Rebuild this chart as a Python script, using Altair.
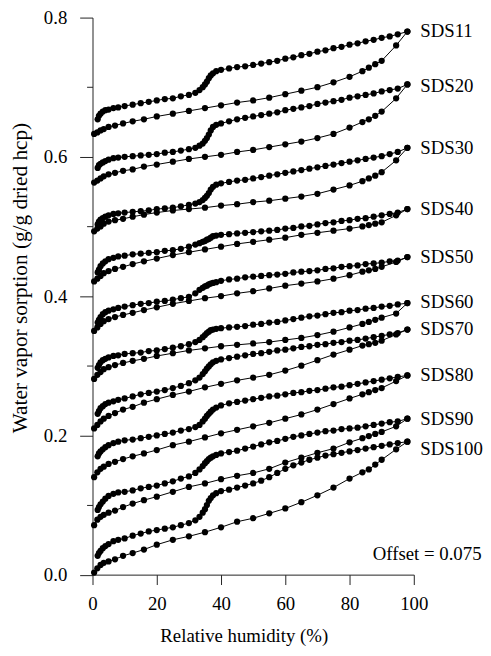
import altair as alt
import pandas as pd

SAMPLES = ["SDS11", "SDS20", "SDS30", "SDS40", "SDS50", "SDS60", "SDS70", "SDS80", "SDS90", "SDS100"]

# relative humidity steps (%) of the desorption branch (upper curves) and adsorption branch (lower curves)
RH_DES = [98, 95, 92.5, 90, 87.5, 85, 82.5, 80, 77.5, 75, 72.5, 70, 67.5, 65, 62.5, 60, 57.5, 55, 52.5, 50,
          47.5, 45, 42.5, 40, 38.5, 37.5, 36.8, 36.2, 35.6, 35, 34.3, 33.3, 32, 30, 27.5, 25, 22.5, 20, 17.5, 15,
          12.5, 10, 8, 6.5, 5, 4, 3.2, 2.5, 2, 1.6]
RH_ADS = [0.5, 1.5, 2.5, 3.5, 5, 7, 9.5, 12.5, 16, 20, 25, 30, 35, 40, 45, 50, 55, 60, 65, 70,
          75, 80, 84, 86, 88, 90, 94.5, 98]

DES_SDS11 = [0.780, 0.776, 0.773, 0.771, 0.768, 0.766, 0.763, 0.761, 0.758, 0.756, 0.753, 0.751, 0.748, 0.746, 0.743, 0.741, 0.738, 0.736, 0.734, 0.732,
             0.730, 0.729, 0.727, 0.725, 0.723, 0.720, 0.717, 0.713, 0.708, 0.704, 0.700, 0.696, 0.692, 0.689, 0.687, 0.684, 0.683, 0.681, 0.679, 0.677,
             0.675, 0.673, 0.671, 0.670, 0.668, 0.667, 0.665, 0.662, 0.659, 0.654]
ADS_SDS11 = [0.633, 0.635, 0.638, 0.640, 0.643, 0.645, 0.648, 0.651, 0.654, 0.658, 0.662, 0.666, 0.670, 0.674, 0.678, 0.681, 0.685, 0.690, 0.695, 0.700,
             0.707, 0.715, 0.723, 0.728, 0.733, 0.738, 0.760, 0.780]

DES_SDS20 = [0.704, 0.698, 0.696, 0.694, 0.691, 0.689, 0.687, 0.685, 0.682, 0.680, 0.678, 0.676, 0.673, 0.671, 0.669, 0.667, 0.664, 0.662, 0.660, 0.658,
             0.656, 0.654, 0.651, 0.648, 0.646, 0.643, 0.638, 0.632, 0.627, 0.623, 0.619, 0.616, 0.613, 0.611, 0.609, 0.607, 0.606, 0.604, 0.603, 0.602,
             0.601, 0.600, 0.599, 0.598, 0.596, 0.594, 0.592, 0.590, 0.588, 0.584]
ADS_SDS20 = [0.563, 0.566, 0.569, 0.572, 0.575, 0.577, 0.580, 0.582, 0.586, 0.589, 0.593, 0.597, 0.600, 0.603, 0.607, 0.610, 0.614, 0.618, 0.622, 0.627,
             0.633, 0.642, 0.650, 0.654, 0.659, 0.665, 0.684, 0.704]

DES_SDS30 = [0.613, 0.607, 0.604, 0.601, 0.599, 0.597, 0.595, 0.593, 0.591, 0.589, 0.587, 0.585, 0.583, 0.581, 0.579, 0.577, 0.575, 0.573, 0.571, 0.569,
             0.567, 0.566, 0.564, 0.562, 0.560, 0.557, 0.553, 0.548, 0.544, 0.541, 0.538, 0.535, 0.533, 0.531, 0.529, 0.527, 0.526, 0.525, 0.523, 0.522,
             0.521, 0.520, 0.519, 0.518, 0.516, 0.514, 0.512, 0.510, 0.507, 0.503]
ADS_SDS30 = [0.493, 0.497, 0.500, 0.504, 0.507, 0.509, 0.511, 0.514, 0.517, 0.520, 0.523, 0.525, 0.527, 0.530, 0.532, 0.535, 0.537, 0.540, 0.543, 0.547,
             0.553, 0.559, 0.565, 0.569, 0.573, 0.578, 0.595, 0.613]

DES_SDS40 = [0.525, 0.520, 0.518, 0.516, 0.514, 0.512, 0.511, 0.509, 0.508, 0.506, 0.505, 0.503, 0.501, 0.500, 0.498, 0.497, 0.495, 0.494, 0.493, 0.492,
             0.491, 0.490, 0.489, 0.488, 0.487, 0.486, 0.484, 0.482, 0.481, 0.479, 0.478, 0.476, 0.474, 0.471, 0.468, 0.466, 0.465, 0.463, 0.462, 0.461,
             0.460, 0.458, 0.457, 0.455, 0.453, 0.450, 0.447, 0.443, 0.438, 0.434]
ADS_SDS40 = [0.421, 0.425, 0.429, 0.433, 0.436, 0.439, 0.442, 0.446, 0.450, 0.454, 0.459, 0.463, 0.467, 0.471, 0.475, 0.478, 0.481, 0.484, 0.488, 0.491,
             0.494, 0.497, 0.500, 0.502, 0.504, 0.506, 0.516, 0.525]

DES_SDS50 = [0.456, 0.451, 0.450, 0.448, 0.447, 0.446, 0.444, 0.443, 0.442, 0.440, 0.439, 0.437, 0.436, 0.435, 0.434, 0.432, 0.431, 0.430, 0.429, 0.428,
             0.427, 0.425, 0.424, 0.422, 0.420, 0.419, 0.418, 0.417, 0.415, 0.414, 0.412, 0.409, 0.404, 0.399, 0.397, 0.395, 0.393, 0.392, 0.390, 0.389,
             0.387, 0.385, 0.383, 0.381, 0.379, 0.377, 0.374, 0.370, 0.366, 0.362]
ADS_SDS50 = [0.350, 0.355, 0.360, 0.364, 0.367, 0.370, 0.373, 0.376, 0.380, 0.384, 0.389, 0.393, 0.397, 0.400, 0.404, 0.407, 0.411, 0.415, 0.418, 0.421,
             0.425, 0.430, 0.435, 0.437, 0.439, 0.442, 0.449, 0.456]

DES_SDS60 = [0.390, 0.388, 0.386, 0.385, 0.383, 0.382, 0.380, 0.379, 0.377, 0.376, 0.374, 0.372, 0.371, 0.369, 0.367, 0.365, 0.363, 0.362, 0.360, 0.359,
             0.357, 0.356, 0.355, 0.354, 0.353, 0.352, 0.351, 0.349, 0.347, 0.344, 0.341, 0.337, 0.334, 0.331, 0.328, 0.326, 0.324, 0.322, 0.321, 0.319,
             0.318, 0.317, 0.315, 0.314, 0.312, 0.310, 0.308, 0.305, 0.301, 0.297]
ADS_SDS60 = [0.281, 0.287, 0.291, 0.295, 0.298, 0.301, 0.304, 0.307, 0.310, 0.314, 0.318, 0.322, 0.325, 0.328, 0.330, 0.332, 0.334, 0.337, 0.340, 0.344,
             0.349, 0.355, 0.360, 0.363, 0.366, 0.369, 0.375, 0.390]

DES_SDS70 = [0.352, 0.347, 0.345, 0.343, 0.341, 0.339, 0.337, 0.336, 0.334, 0.333, 0.331, 0.330, 0.328, 0.327, 0.325, 0.323, 0.322, 0.320, 0.318, 0.317,
             0.315, 0.313, 0.311, 0.309, 0.307, 0.305, 0.302, 0.299, 0.296, 0.292, 0.288, 0.283, 0.279, 0.275, 0.271, 0.268, 0.265, 0.263, 0.261, 0.259,
             0.256, 0.253, 0.251, 0.249, 0.247, 0.245, 0.242, 0.239, 0.235, 0.231]
ADS_SDS70 = [0.210, 0.215, 0.220, 0.224, 0.228, 0.232, 0.237, 0.241, 0.247, 0.252, 0.258, 0.263, 0.269, 0.274, 0.279, 0.283, 0.287, 0.293, 0.300, 0.308,
             0.316, 0.323, 0.329, 0.331, 0.333, 0.336, 0.345, 0.352]

DES_SDS80 = [0.286, 0.284, 0.282, 0.280, 0.278, 0.276, 0.274, 0.272, 0.270, 0.269, 0.267, 0.265, 0.264, 0.262, 0.261, 0.259, 0.257, 0.256, 0.254, 0.252,
             0.250, 0.248, 0.246, 0.243, 0.240, 0.237, 0.234, 0.231, 0.228, 0.224, 0.220, 0.215, 0.212, 0.209, 0.207, 0.204, 0.202, 0.200, 0.198, 0.196,
             0.194, 0.193, 0.191, 0.189, 0.186, 0.183, 0.180, 0.177, 0.174, 0.170]
ADS_SDS80 = [0.140, 0.147, 0.152, 0.155, 0.159, 0.162, 0.166, 0.170, 0.174, 0.179, 0.186, 0.191, 0.197, 0.203, 0.208, 0.213, 0.218, 0.224, 0.230, 0.237,
             0.245, 0.253, 0.259, 0.262, 0.265, 0.268, 0.278, 0.286]

DES_SDS90 = [0.224, 0.220, 0.219, 0.217, 0.215, 0.213, 0.211, 0.210, 0.209, 0.207, 0.206, 0.204, 0.202, 0.200, 0.198, 0.195, 0.192, 0.190, 0.187, 0.184,
             0.181, 0.178, 0.176, 0.174, 0.172, 0.170, 0.168, 0.166, 0.163, 0.160, 0.156, 0.151, 0.146, 0.141, 0.138, 0.134, 0.131, 0.128, 0.126, 0.124,
             0.121, 0.119, 0.118, 0.116, 0.113, 0.109, 0.105, 0.101, 0.097, 0.093]
ADS_SDS90 = [0.071, 0.079, 0.083, 0.086, 0.089, 0.092, 0.097, 0.102, 0.107, 0.112, 0.119, 0.126, 0.131, 0.137, 0.142, 0.146, 0.152, 0.161, 0.168, 0.175,
             0.181, 0.190, 0.196, 0.199, 0.202, 0.205, 0.213, 0.224]

DES_SDS100 = [0.191, 0.189, 0.187, 0.185, 0.183, 0.181, 0.179, 0.177, 0.175, 0.173, 0.171, 0.168, 0.165, 0.161, 0.157, 0.152, 0.146, 0.140, 0.135, 0.131,
              0.128, 0.125, 0.122, 0.120, 0.117, 0.114, 0.110, 0.106, 0.100, 0.094, 0.089, 0.083, 0.078, 0.074, 0.071, 0.068, 0.066, 0.064, 0.062, 0.059,
              0.056, 0.052, 0.050, 0.048, 0.044, 0.041, 0.038, 0.034, 0.031, 0.027]
ADS_SDS100 = [0.003, 0.009, 0.014, 0.017, 0.019, 0.022, 0.027, 0.031, 0.036, 0.043, 0.050, 0.055, 0.061, 0.068, 0.076, 0.081, 0.088, 0.095, 0.104, 0.114,
              0.125, 0.138, 0.147, 0.151, 0.158, 0.165, 0.180, 0.191]

DES = [DES_SDS11, DES_SDS20, DES_SDS30, DES_SDS40, DES_SDS50, DES_SDS60, DES_SDS70, DES_SDS80, DES_SDS90, DES_SDS100]
ADS = [ADS_SDS11, ADS_SDS20, ADS_SDS30, ADS_SDS40, ADS_SDS50, ADS_SDS60, ADS_SDS70, ADS_SDS80, ADS_SDS90, ADS_SDS100]

# label anchor values (g/g) for the sample names at the right
LABEL_Y = [0.780, 0.702, 0.613, 0.525, 0.456, 0.391, 0.352, 0.286, 0.224, 0.181]
LABEL_RH = 102
OFFSET_TEXT = "Offset = 0.075"

X_TICKS = [0, 10, 20, 30, 40, 50, 60, 70, 80, 90, 100]
Y_TICKS = [0.0, 0.1, 0.2, 0.3, 0.4, 0.5, 0.6, 0.7, 0.8]

rows = []
for s, des, ads in zip(SAMPLES, DES, ADS):
    for rh, w in zip(RH_DES, des):
        rows.append({"sample": s, "branch": "desorption", "key": s + "-d", "rh": rh, "w": w})
    for rh, w in zip(RH_ADS, ads):
        rows.append({"sample": s, "branch": "adsorption", "key": s + "-a", "rh": rh, "w": w})
df = pd.DataFrame(rows)
labels = pd.DataFrame({"sample": SAMPLES, "rh": [LABEL_RH] * len(SAMPLES), "w": LABEL_Y})

FONT = "Liberation Serif, Times New Roman, serif"
FS = 19

x_enc = alt.X("rh:Q", scale=alt.Scale(domain=[0, 100], nice=False, zero=False),
              axis=alt.Axis(values=X_TICKS, title="Relative humidity (%)",
                            tickSize={"condition": {"test": "datum.value % 20 == 0", "value": 10}, "value": 5},
                            labelExpr="datum.value % 20 == 0 ? datum.label : ''",
                            labelFlush=False, labelOverlap=False,
                            labelPadding=10, titleX=153, titleY=62, titleBaseline="middle",
                            titleAlign="center"))
y_enc = alt.Y("w:Q", scale=alt.Scale(domain=[0, 0.8], nice=False, zero=False),
              axis=alt.Axis(values=Y_TICKS, title="Water vapor sorption (g/g dried hcp)",
                            tickSize={"condition": {"test": "round(datum.value * 10) % 2 == 0", "value": 13}, "value": 6},
                            labelExpr="round(datum.value * 10) % 2 == 0 ? format(datum.value, '.1f') : ''",
                            labelFlush=False, labelOverlap=False,
                            labelPadding=13, titleX=-73, titleY=263, titleAngle=-90,
                            titleFontSize=21.5,
                            titleBaseline="middle", titleAlign="center"))

lines = alt.Chart(df).mark_line(color="black", strokeWidth=1).encode(
    x=x_enc, y=y_enc, detail="key:N")
points = alt.Chart(df).mark_circle(color="black", size=40, opacity=1).encode(
    x="rh:Q", y="w:Q")
label_text = alt.Chart(labels).mark_text(align="left", baseline="middle", font=FONT,
                                         fontSize=FS, color="black").encode(
    x="rh:Q", y="w:Q", text="sample:N")
offset_text = alt.Chart(pd.DataFrame({"t": [OFFSET_TEXT]})).mark_text(
    align="left", baseline="middle", font=FONT, fontSize=FS, color="black").encode(
    x=alt.value(283.5), y=alt.value(543), text="t:N")

chart = alt.layer(lines, points, label_text, offset_text).properties(
    width=325, height=563.5,
    autosize=alt.AutoSizeParams(type="none"),
    padding={"left": 85.5, "top": 6, "right": 70, "bottom": 70},
).configure_view(stroke=None).configure_axis(
    labelFont=FONT, titleFont=FONT, labelFontSize=FS, titleFontSize=FS,
    titleFontWeight="normal", labelColor="black", titleColor="black",
    domainColor="#222222", tickColor="#222222", grid=False, domainWidth=1, tickWidth=1,
)

chart.save("out.html", embed_options={"renderer": "svg", "actions": False})
